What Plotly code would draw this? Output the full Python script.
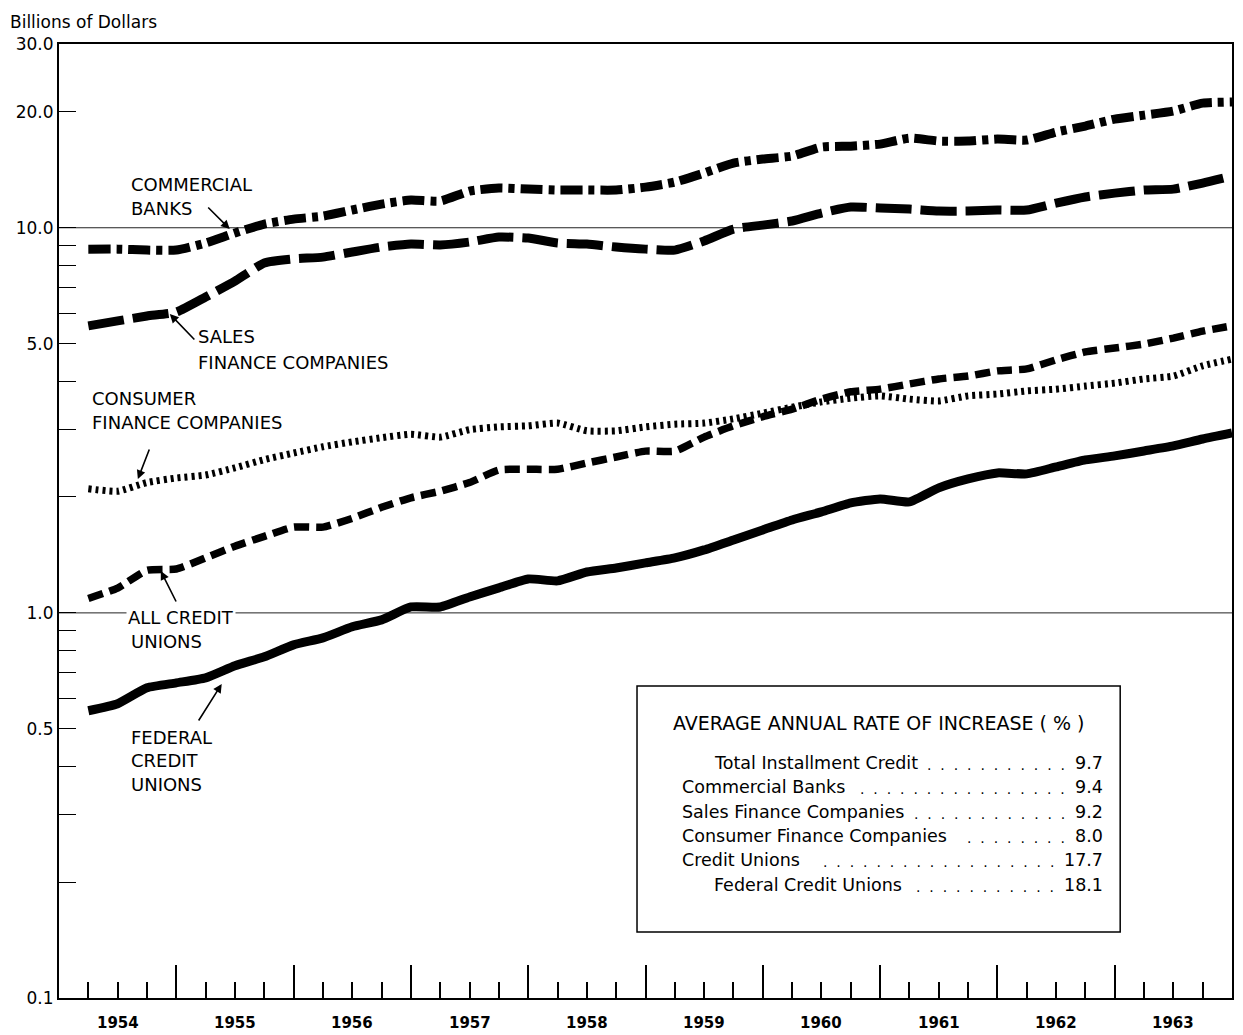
import plotly.graph_objects as go
import math

# ---------------- data (quarter-end values, billions of dollars) ----------------
quarters = [y + q / 4 for y in range(1954, 1964) for q in range(1, 5)]

commercial_banks = [8.80, 8.80, 8.75, 8.75, 9.13, 9.69, 10.22, 10.53, 10.72, 11.12,
                    11.52, 11.80, 11.73, 12.45, 12.68, 12.60, 12.53, 12.53, 12.53, 12.75,
                    13.14, 13.87, 14.72, 15.08, 15.35, 16.20, 16.29, 16.49, 17.09, 16.79,
                    16.79, 16.99, 16.89, 17.72, 18.37, 19.15, 19.61, 20.09, 21.07, 21.20]

sales_finance = [5.56, 5.73, 5.90, 6.04, 6.61, 7.27, 8.10, 8.30, 8.39, 8.65,
                 8.91, 9.07, 9.02, 9.18, 9.46, 9.40, 9.13, 9.07, 8.91, 8.80,
                 8.75, 9.24, 9.92, 10.16, 10.41, 10.92, 11.32, 11.25, 11.18, 11.05,
                 11.05, 11.12, 11.12, 11.59, 12.02, 12.30, 12.53, 12.60, 13.06, 13.62]

consumer_finance = [2.10, 2.07, 2.18, 2.24, 2.28, 2.38, 2.50, 2.60, 2.70, 2.78,
                    2.85, 2.91, 2.86, 2.99, 3.04, 3.06, 3.11, 2.97, 2.97, 3.04,
                    3.09, 3.11, 3.19, 3.30, 3.42, 3.53, 3.61, 3.66, 3.59, 3.55,
                    3.66, 3.70, 3.77, 3.81, 3.88, 3.95, 4.05, 4.12, 4.38, 4.56]

all_credit_unions = [1.09, 1.16, 1.29, 1.30, 1.39, 1.49, 1.58, 1.67, 1.67, 1.76,
                     1.88, 1.99, 2.07, 2.18, 2.35, 2.36, 2.36, 2.45, 2.54, 2.63,
                     2.63, 2.86, 3.06, 3.23, 3.38, 3.59, 3.75, 3.81, 3.93, 4.05,
                     4.12, 4.25, 4.30, 4.54, 4.76, 4.87, 4.99, 5.17, 5.39, 5.56]

federal_credit_unions = [0.557, 0.581, 0.639, 0.658, 0.678, 0.729, 0.769, 0.826, 0.861, 0.920,
                         0.959, 1.036, 1.036, 1.100, 1.161, 1.225, 1.211, 1.277, 1.308, 1.348,
                         1.389, 1.457, 1.547, 1.642, 1.743, 1.829, 1.930, 1.977, 1.942, 2.111,
                         2.227, 2.309, 2.296, 2.393, 2.495, 2.556, 2.633, 2.713, 2.828, 2.932]

years = list(range(1954, 1965))
year_labels = [str(y) for y in range(1954, 1964)]

y_tick_values = [0.1, 0.2, 0.3, 0.4, 0.5, 0.6, 0.7, 0.8, 0.9, 1, 2, 3, 4, 5, 6, 7, 8, 9, 10, 20, 30]
y_tick_labels = {0.1: "0.1", 0.5: "0.5", 1: "1.0", 5: "5.0", 10: "10.0", 20: "20.0", 30: "30.0"}
grid_values = [1, 10]

table_title = "AVERAGE ANNUAL RATE OF INCREASE ( % )"
table_rows = ["Total Installment Credit", "Commercial Banks", "Sales Finance Companies",
              "Consumer Finance Companies", "Credit Unions", "Federal Credit Unions"]
table_values = ["9.7", "9.4", "9.2", "8.0", "17.7", "18.1"]
table_indent = [True, False, False, False, False, True]
table_dots = [11, 16, 12, 8, 18, 11]

# ---------------- layout geometry ----------------
W, H = 1243, 1035
L, R, T, B = 59, 1234, 44, 998


def px(x):
    return (x - L) / (R - L)


def py(y):
    return (B - y) / (B - T)


FONT = "DejaVu Sans"
fig = go.Figure()

# gridlines at 1.0 and 10.0
for g in grid_values:
    fig.add_trace(go.Scatter(x=[years[0], years[-1]], y=[g, g], mode="lines",
                             line=dict(color="#222", width=1), hoverinfo="skip",
                             showlegend=False))

series = [
    (commercial_banks, dict(color="black", width=9, dash="22px,6px,6px,6px")),
    (sales_finance, dict(color="black", width=9, dash="36px,9px")),
    (consumer_finance, dict(color="black", width=7, dash="3px,4px")),
    (all_credit_unions, dict(color="black", width=7.5, dash="15px,7px")),
    (federal_credit_unions, dict(color="black", width=9)),
]
for vals, ln in series:
    ln = dict(ln, shape="spline", smoothing=0.5)
    fig.add_trace(go.Scatter(x=quarters, y=vals, mode="lines", line=ln,
                             showlegend=False))

ann = []


def text(x, y, s, size=18, anchor="left", **kw):
    ann.append(dict(x=px(x), y=py(y), xref="paper", yref="paper", text=s,
                    showarrow=False, xanchor=anchor, yanchor="middle",
                    font=dict(family=FONT, size=size, color="black"), **kw))


def arrow(hx, hy, tx, ty):
    ann.append(dict(x=px(hx), y=py(hy), xref="paper", yref="paper", text="",
                    showarrow=True, arrowhead=2, arrowsize=1.1, arrowwidth=1.6,
                    arrowcolor="black", ax=tx - hx, ay=ty - hy, standoff=0))


# y-axis title
text(8, 22, "Billions of Dollars", size=17)

# series labels
text(129, 184, "COMMERCIAL")
text(129, 208, "BANKS")
arrow(230, 229, 207, 206)

text(196, 337, "SALES")
text(196, 362, "FINANCE COMPANIES")
arrow(170, 314, 196, 341)

text(90, 398, "CONSUMER")
text(90, 422, "FINANCE COMPANIES")
arrow(138, 479, 150, 448)

text(126, 617, "ALL CREDIT", bgcolor="white")
text(129, 641, "UNIONS")
arrow(161, 571, 177, 603)

text(129, 737, "FEDERAL")
text(129, 760, "CREDIT")
text(129, 784, "UNIONS")
arrow(222, 684, 198, 722)

# year labels centred within each year
for i, lab in enumerate(year_labels):
    ann.append(dict(x=years[i] + 0.5, y=py(1023), xref="x", yref="paper", text=lab,
                    showarrow=False, xanchor="center", yanchor="middle",
                    font=dict(family=FONT, size=15, color="black", weight="bold")))

# rate-of-increase table
text(672, 723, table_title, size=19)
row_y = [763, 787, 812, 836, 860, 885]
for lab, val, ind, nd, yy in zip(table_rows, table_values, table_indent, table_dots, row_y):
    text(713 if ind else 681, yy, lab, size=17.5)
    dots = ("." + "\u00a0\u00a0") * (nd - 1) + "."
    text(1069 if len(val) == 3 else 1058, yy + 2, dots, size=14, anchor="right")
    text(1107, yy, val, size=17.5, anchor="right")

shapes = [dict(type="rect", xref="paper", yref="paper", x0=px(638), x1=px(1122),
               y0=py(932), y1=py(686), line=dict(color="black", width=1.5))]

fig.update_layout(
    width=W, height=H,
    margin=dict(l=L, r=W - R, t=T, b=H - B),
    paper_bgcolor="white", plot_bgcolor="white",
    annotations=ann, shapes=shapes,
    xaxis=dict(range=[years[0], years[-1]], tickmode="array", tickvals=years,
               showticklabels=False, ticks="inside", ticklen=33, tickwidth=1.5,
               tickcolor="black", showgrid=False, zeroline=False,
               showline=True, linecolor="black", linewidth=2, mirror=True,
               minor=dict(tickmode="array",
                          tickvals=[q for q in quarters if q != int(q)],
                          ticks="inside", ticklen=16, tickwidth=1.5,
                          tickcolor="black", showgrid=False)),
    yaxis=dict(type="log", range=[math.log10(0.1), math.log10(30)],
               tickmode="array", tickvals=y_tick_values,
               ticktext=[y_tick_labels.get(v, "") for v in y_tick_values],
               ticks="inside", ticklen=17, tickwidth=1.2, tickcolor="black",
               tickfont=dict(family=FONT, size=17, color="black"),
               showgrid=False, zeroline=False,
               showline=True, linecolor="black", linewidth=2, mirror=True),
)

fig.write_html("out.html", config={"displayModeBar": False},
               post_script="document.body.style.margin='0';document.body.style.overflow='hidden';")
